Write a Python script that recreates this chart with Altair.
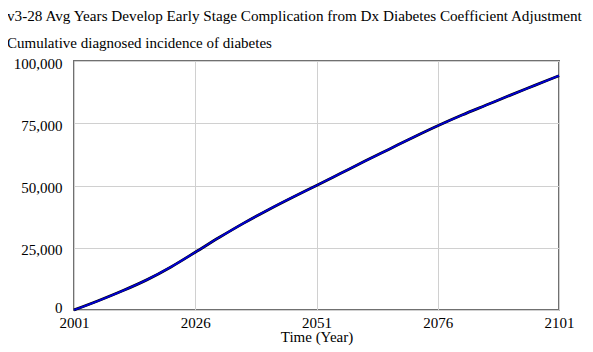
import altair as alt
import pandas as pd

years = [2001, 2006, 2011, 2016, 2021, 2026, 2031, 2036, 2041, 2046, 2051,
         2056, 2061, 2066, 2071, 2076, 2081, 2086, 2091, 2096, 2101]
cum_base = [0, 3700, 7700, 12100, 17300, 23200, 29200, 34900, 40200, 45200, 50000,
            54900, 59800, 64600, 69400, 74000, 78300, 82300, 86300, 90200, 94100]
cum_adj = [0, 3700, 7700, 12100, 17300, 23200, 29200, 34900, 40200, 45200, 50000,
           54900, 59800, 64600, 69400, 74000, 78300, 82300, 86300, 90200, 94100]
x_ticks = [2001, 2026, 2051, 2076, 2101]
y_ticks = [0, 25000, 50000, 75000, 100000]

df = pd.DataFrame({"Year": years, "Base": cum_base, "Adj": cum_adj})

FONT = "Liberation Serif"

x_enc = alt.X(
    "Year:Q",
    scale=alt.Scale(domain=[2001, 2101], nice=False, zero=False),
    axis=alt.Axis(values=x_ticks, format="d", title="Time (Year)",
                  labelFlush=False, labelOverlap=False, labelPadding=5,
                  titlePadding=-1),
)


def y_enc(field):
    return alt.Y(
        field,
        scale=alt.Scale(domain=[0, 100000], nice=False),
        axis=alt.Axis(values=y_ticks, format=",d", title=None,
                      labelFlush=False, labelOverlap=False, labelPadding=12,
                      labelBaseline="middle",
                      labelOffset={"condition": {"test": "datum.value == 0", "value": -3},
                                   "value": 2}),
    )


base = alt.Chart(df)
line_base = base.mark_line(color="#000000", strokeWidth=2.8, interpolate="monotone").encode(
    x=x_enc, y=y_enc("Base:Q"))
line_adj = base.mark_line(color="#0000d0", strokeWidth=1.9, interpolate="monotone").encode(
    x=x_enc, y=y_enc("Adj:Q"))

chart = (
    alt.layer(line_base, line_adj)
    .properties(
        width=485,
        height=249,
        autosize=alt.AutoSizeParams(type="none"),
        padding={"left": 66, "top": 53, "right": 26, "bottom": 42},
        title=alt.TitleParams(
            text="v3-28 Avg Years Develop Early Stage Complication from Dx Diabetes Coefficient Adjustment",
            subtitle="Cumulative diagnosed incidence of diabetes",
            anchor="start",
            frame="group",
            dx=-67,
            offset=5,
            font=FONT,
            fontSize=15.2,
            fontWeight="normal",
            color="#000000",
            subtitleFont=FONT,
            subtitleFontSize=15,
            subtitleColor="#000000",
            subtitlePadding=12,
        ),
    )
    .configure_title(font=FONT, subtitleFont=FONT, subtitleFontWeight="normal")
    .configure_view(stroke="#707070", strokeWidth=2)
    .configure_axis(
        domain=False,
        ticks=False,
        grid=True,
        gridColor="#d0d0d0",
        gridWidth=1,
        labelFont=FONT,
        labelFontSize=15,
        labelColor="#000000",
        titleFont=FONT,
        titleFontSize=15,
        titleFontWeight="normal",
        titleColor="#000000",
    )
)

chart.save("out.html", embed_options={"renderer": "svg", "actions": False})
